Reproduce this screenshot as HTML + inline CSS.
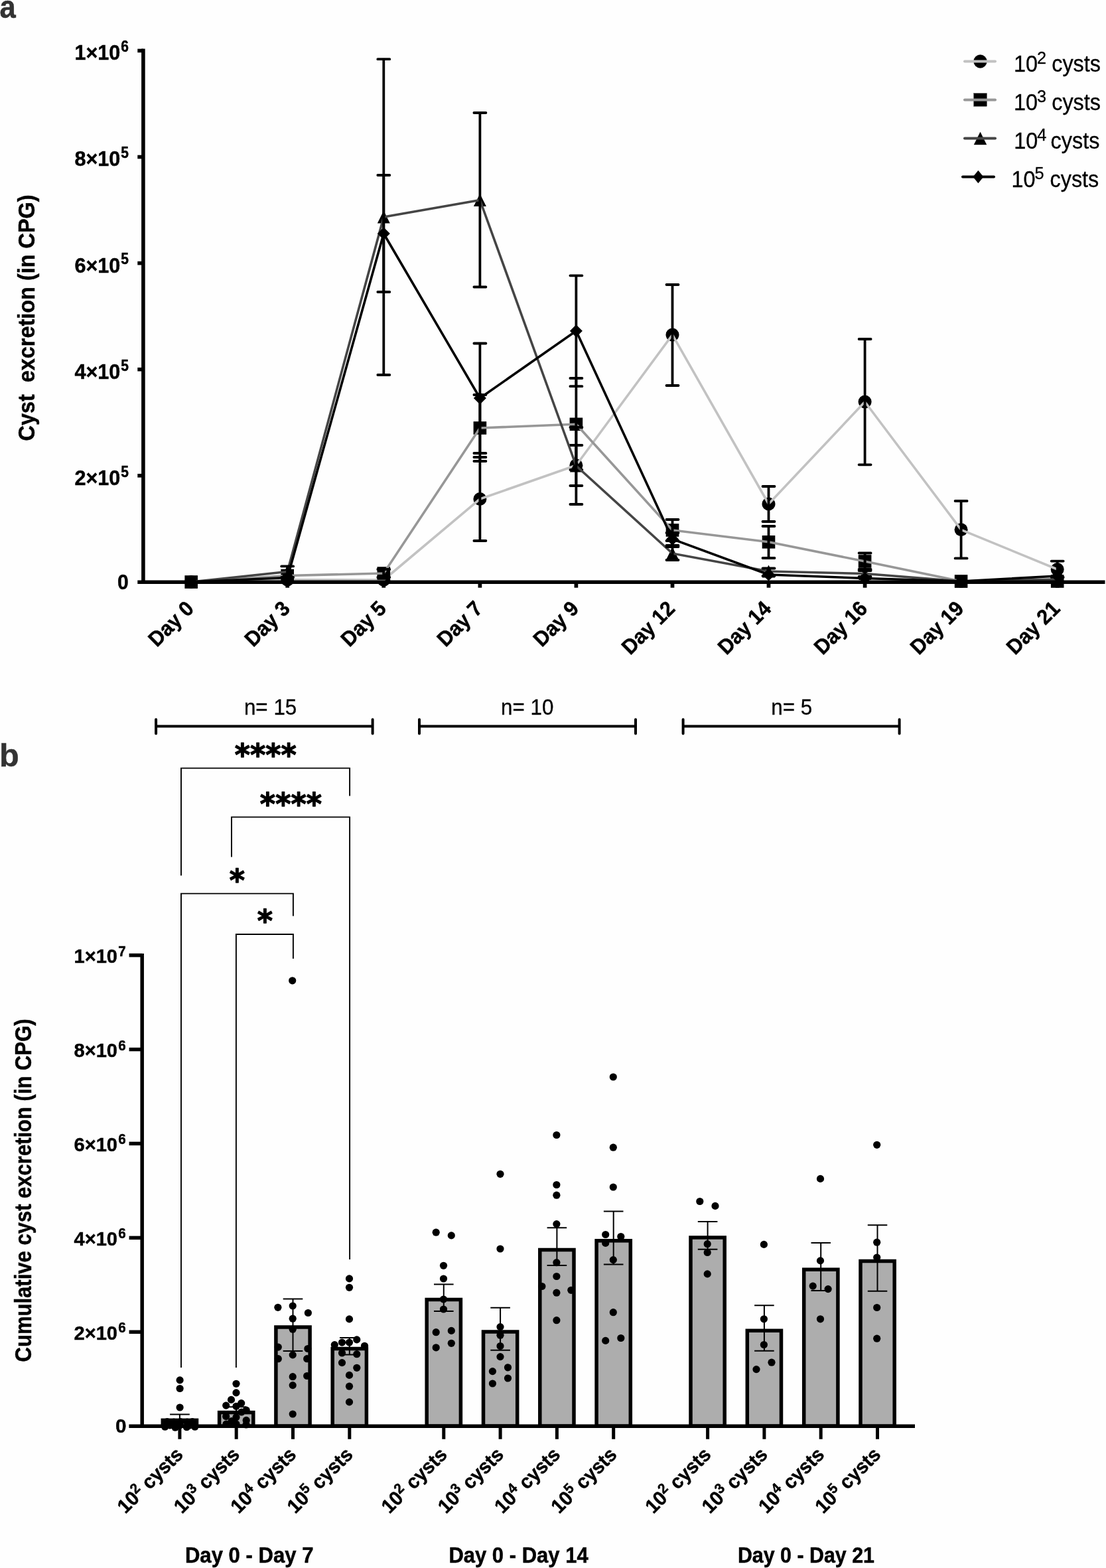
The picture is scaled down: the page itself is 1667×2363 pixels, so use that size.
<!DOCTYPE html>
<html><head><meta charset="utf-8"><title>Cyst excretion</title>
<style>html,body{margin:0;padding:0;background:#fefefe;}svg{display:block;}</style>
</head><body>
<svg width="1667" height="2363" viewBox="0 0 1667 2363">
<rect width="1667" height="2363" fill="#fefefe"/>
<g font-family='"Liberation Sans", Arial, sans-serif' stroke="#333" stroke-width="0.45">
<text transform="translate(-0.6 26.5) scale(1 1.084)" font-size="43.6" font-weight="bold" fill="#333">a</text>
<text transform="translate(-1.1 1155) scale(1 0.97)" font-size="48.7" font-weight="bold" fill="#333">b</text>
</g>
<g fill="#000">
<circle cx="288.2" cy="877" r="10"/>
<circle cx="433.2" cy="873.8" r="10"/>
<circle cx="578.3" cy="874" r="10"/>
<circle cx="723.4" cy="752" r="10"/>
<circle cx="868.4" cy="701.3" r="10"/>
<circle cx="1013.5" cy="504.5" r="10"/>
<circle cx="1158.5" cy="759.5" r="10"/>
<circle cx="1303.6" cy="605.5" r="10"/>
<circle cx="1448.6" cy="798.3" r="10"/>
<circle cx="1593.7" cy="858" r="10"/>
</g>
<polyline points="288.2,877 433.2,873.8 578.3,874 723.4,752 868.4,701.3 1013.5,504.5 1158.5,759.5 1303.6,605.5 1448.6,798.3 1593.7,858" fill="none" stroke="#c2c2c2" stroke-width="3.6" stroke-linejoin="round"/>
<g stroke="#000" stroke-width="3.8" stroke-linecap="round" fill="none">
<path d="M723.4 752V689M714.4 689H732.4"/>
<path d="M723.4 752V815M714.4 815H732.4"/>
<path d="M868.4 701.3V671M859.4 671H877.4"/>
<path d="M868.4 701.3V732M859.4 732H877.4"/>
<path d="M1013.5 504.5V429M1004.5 429H1022.5"/>
<path d="M1013.5 504.5V581M1004.5 581H1022.5"/>
<path d="M1158.5 759.5V733M1149.5 733H1167.5"/>
<path d="M1158.5 759.5V786M1149.5 786H1167.5"/>
<path d="M1303.6 605.5V511M1294.6 511H1312.6"/>
<path d="M1303.6 605.5V700.3M1294.6 700.3H1312.6"/>
<path d="M1448.6 798.3V755M1439.6 755H1457.6"/>
<path d="M1448.6 798.3V841.4M1439.6 841.4H1457.6"/>
<path d="M1593.7 858V845.6M1584.7 845.6H1602.7"/>
<path d="M1593.7 858V870M1584.7 870H1602.7"/>
</g>
<g fill="#000">
<rect x="278.4" y="867.2" width="19.6" height="19.6"/>
<rect x="423.4" y="857.7" width="19.6" height="19.6"/>
<rect x="568.5" y="854.2" width="19.6" height="19.6"/>
<rect x="713.6" y="635.2" width="19.6" height="19.6"/>
<rect x="858.6" y="629.5" width="19.6" height="19.6"/>
<rect x="1003.7" y="789.2" width="19.6" height="19.6"/>
<rect x="1148.7" y="807" width="19.6" height="19.6"/>
<rect x="1293.8" y="836.2" width="19.6" height="19.6"/>
<rect x="1438.8" y="866.2" width="19.6" height="19.6"/>
<rect x="1583.9" y="866.2" width="19.6" height="19.6"/>
</g>
<polyline points="288.2,877 433.2,867.5 578.3,864 723.4,645 868.4,639.3 1013.5,799 1158.5,816.8 1303.6,846 1448.6,876 1593.7,876" fill="none" stroke="#979797" stroke-width="3.6" stroke-linejoin="round"/>
<g stroke="#000" stroke-width="3.8" stroke-linecap="round" fill="none">
<path d="M578.3 864V858M569.3 858H587.3"/>
<path d="M578.3 864V870M569.3 870H587.3"/>
<path d="M723.4 645V595M714.4 595H732.4"/>
<path d="M723.4 645V695M714.4 695H732.4"/>
<path d="M868.4 639.3V570M859.4 570H877.4"/>
<path d="M868.4 639.3V708M859.4 708H877.4"/>
<path d="M1013.5 799V783M1004.5 783H1022.5"/>
<path d="M1013.5 799V815M1004.5 815H1022.5"/>
<path d="M1158.5 816.8V793M1149.5 793H1167.5"/>
<path d="M1158.5 816.8V841M1149.5 841H1167.5"/>
<path d="M1303.6 846V833.5M1294.6 833.5H1312.6"/>
<path d="M1303.6 846V858M1294.6 858H1312.6"/>
</g>
<g fill="#000">
<path d="M288.2 867.4L297.7 886.6L278.7 886.6Z"/>
<path d="M433.2 851.9L442.8 871.1L423.8 871.1Z"/>
<path d="M578.3 317.4L587.8 336.6L568.8 336.6Z"/>
<path d="M723.4 291.9L732.9 311.1L713.9 311.1Z"/>
<path d="M868.4 692.4L877.9 711.6L858.9 711.6Z"/>
<path d="M1013.5 824.4L1023 843.6L1004 843.6Z"/>
<path d="M1158.5 851.4L1168 870.6L1149 870.6Z"/>
<path d="M1303.6 854.9L1313.1 874.1L1294.1 874.1Z"/>
<path d="M1448.6 866.4L1458.1 885.6L1439.1 885.6Z"/>
<path d="M1593.7 863.4L1603.2 882.6L1584.2 882.6Z"/>
</g>
<polyline points="288.2,877 433.2,861.5 578.3,327 723.4,301.5 868.4,702 1013.5,834 1158.5,861 1303.6,864.5 1448.6,876 1593.7,873" fill="none" stroke="#454545" stroke-width="3.6" stroke-linejoin="round"/>
<g stroke="#000" stroke-width="3.8" stroke-linecap="round" fill="none">
<path d="M433.2 861.5V853.4M424.2 853.4H442.2"/>
<path d="M433.2 861.5V870M424.2 870H442.2"/>
<path d="M578.3 327V89.2M569.3 89.2H587.3"/>
<path d="M578.3 327V565M569.3 565H587.3"/>
<path d="M723.4 301.5V170M714.4 170H732.4"/>
<path d="M723.4 301.5V432.5M714.4 432.5H732.4"/>
<path d="M868.4 702V644M859.4 644H877.4"/>
<path d="M868.4 702V760M859.4 760H877.4"/>
<path d="M1013.5 834V824M1004.5 824H1022.5"/>
<path d="M1013.5 834V844M1004.5 844H1022.5"/>
<path d="M1158.5 861V856.5M1149.5 856.5H1167.5"/>
<path d="M1158.5 861V868M1149.5 868H1167.5"/>
<path d="M1303.6 864.5V860M1294.6 860H1312.6"/>
<path d="M1303.6 864.5V869M1294.6 869H1312.6"/>
</g>
<g fill="#000">
<path d="M288.2 867.5L297.7 877L288.2 886.5L278.7 877Z"/>
<path d="M433.2 861L442.8 870.5L433.2 880L423.8 870.5Z"/>
<path d="M578.3 342.5L587.8 352L578.3 361.5L568.8 352Z"/>
<path d="M723.4 590.5L732.9 600L723.4 609.5L713.9 600Z"/>
<path d="M868.4 489.2L877.9 498.7L868.4 508.2L858.9 498.7Z"/>
<path d="M1013.5 803L1023 812.5L1013.5 822L1004 812.5Z"/>
<path d="M1158.5 856.5L1168 866L1158.5 875.5L1149 866Z"/>
<path d="M1303.6 862L1313.1 871.5L1303.6 881L1294.1 871.5Z"/>
<path d="M1448.6 866.5L1458.1 876L1448.6 885.5L1439.1 876Z"/>
<path d="M1593.7 858.5L1603.2 868L1593.7 877.5L1584.2 868Z"/>
</g>
<polyline points="288.2,877 433.2,870.5 578.3,352 723.4,600 868.4,498.7 1013.5,812.5 1158.5,866 1303.6,871.5 1448.6,876 1593.7,868" fill="none" stroke="#000000" stroke-width="3.6" stroke-linejoin="round"/>
<g stroke="#000" stroke-width="3.8" stroke-linecap="round" fill="none">
<path d="M578.3 352V264M569.3 264H587.3"/>
<path d="M578.3 352V440M569.3 440H587.3"/>
<path d="M723.4 600V517.5M714.4 517.5H732.4"/>
<path d="M723.4 600V683M714.4 683H732.4"/>
<path d="M868.4 498.7V415.3M859.4 415.3H877.4"/>
<path d="M868.4 498.7V582.2M859.4 582.2H877.4"/>
<path d="M1013.5 812.5V803M1004.5 803H1022.5"/>
<path d="M1013.5 812.5V822M1004.5 822H1022.5"/>
</g>
<g stroke="#000" fill="none" stroke-width="5.6">
<path d="M215.9 73.6V880"/>
<path d="M207.3 877.3H1665.5"/>
<path d="M207.3 716.8H216"/>
<path d="M207.3 556.7H216"/>
<path d="M207.3 396.6H216"/>
<path d="M207.3 236.5H216"/>
<path d="M207.3 76.4H216"/>
</g>
<g stroke="#000" stroke-width="5.7">
<path d="M288.2 879V885.7"/>
<path d="M433.2 879V885.7"/>
<path d="M578.3 879V885.7"/>
<path d="M723.4 879V885.7"/>
<path d="M868.4 879V885.7"/>
<path d="M1013.5 879V885.7"/>
<path d="M1158.5 879V885.7"/>
<path d="M1303.6 879V885.7"/>
<path d="M1448.6 879V885.7"/>
<path d="M1593.7 879V885.7"/>
</g>
<g font-family='"Liberation Sans", Arial, sans-serif' stroke="#000" stroke-width="0.45">
<text transform="translate(193.7 887.9) scale(1 1.04)" font-size="30.1" font-weight="bold" text-anchor="end">0</text>
<text transform="translate(181.3 730.7) scale(1 1.05)" font-size="30.6" font-weight="bold" text-anchor="end">2×10</text>
<text transform="translate(182.3 718.6) scale(1 1.12)" font-size="21" font-weight="bold">5</text>
<text transform="translate(181.3 570.6) scale(1 1.05)" font-size="30.6" font-weight="bold" text-anchor="end">4×10</text>
<text transform="translate(182.3 558.5) scale(1 1.12)" font-size="21" font-weight="bold">5</text>
<text transform="translate(181.3 410.5) scale(1 1.05)" font-size="30.6" font-weight="bold" text-anchor="end">6×10</text>
<text transform="translate(182.3 398.4) scale(1 1.12)" font-size="21" font-weight="bold">5</text>
<text transform="translate(181.3 250.4) scale(1 1.05)" font-size="30.6" font-weight="bold" text-anchor="end">8×10</text>
<text transform="translate(182.3 238.3) scale(1 1.12)" font-size="21" font-weight="bold">5</text>
<text transform="translate(181.3 90.3) scale(1 1.05)" font-size="30.6" font-weight="bold" text-anchor="end">1×10</text>
<text transform="translate(182.3 78.2) scale(1 1.12)" font-size="21" font-weight="bold">6</text>
</g>
<text transform="translate(51.8 479) rotate(-90) scale(1 1.04)" text-anchor="middle" font-family='"Liberation Sans", Arial, sans-serif' stroke="#000" stroke-width="0.45" font-weight="bold" font-size="34.3" textLength="371" lengthAdjust="spacingAndGlyphs" xml:space="preserve">Cyst  excretion (in CPG)</text>
<g font-family='"Liberation Sans", Arial, sans-serif' stroke="#000" stroke-width="0.45">
<text transform="translate(293.9 919) rotate(-45) scale(1 1.045)" font-size="30.4" font-weight="bold" text-anchor="end">Day 0</text>
<text transform="translate(439 919) rotate(-45) scale(1 1.045)" font-size="30.4" font-weight="bold" text-anchor="end">Day 3</text>
<text transform="translate(584 919) rotate(-45) scale(1 1.045)" font-size="30.4" font-weight="bold" text-anchor="end">Day 5</text>
<text transform="translate(729.1 919) rotate(-45) scale(1 1.045)" font-size="30.4" font-weight="bold" text-anchor="end">Day 7</text>
<text transform="translate(874.2 919) rotate(-45) scale(1 1.045)" font-size="30.4" font-weight="bold" text-anchor="end">Day 9</text>
<text transform="translate(1019.2 919) rotate(-45) scale(1 1.045)" font-size="30.4" font-weight="bold" text-anchor="end">Day 12</text>
<text transform="translate(1164.2 919) rotate(-45) scale(1 1.045)" font-size="30.4" font-weight="bold" text-anchor="end">Day 14</text>
<text transform="translate(1309.3 919) rotate(-45) scale(1 1.045)" font-size="30.4" font-weight="bold" text-anchor="end">Day 16</text>
<text transform="translate(1454.4 919) rotate(-45) scale(1 1.045)" font-size="30.4" font-weight="bold" text-anchor="end">Day 19</text>
<text transform="translate(1599.4 919) rotate(-45) scale(1 1.045)" font-size="30.4" font-weight="bold" text-anchor="end">Day 21</text>
</g>
<g font-family='"Liberation Sans", Arial, sans-serif' stroke="#000" stroke-width="0.3">
<g fill="#000"><circle cx="1477.5" cy="92.5" r="10"/></g>
<path d="M1454 92.5H1500" stroke="#c2c2c2" stroke-width="4" stroke-linecap="round"/>
<text transform="translate(1528 108.1) scale(1 1.058)" font-size="32.4">10</text>
<text transform="translate(1563 96.2) scale(1 1.02)" font-size="25.3">2</text>
<text transform="translate(1585.2 108.1) scale(1 1.058)" font-size="32.4">cysts</text>
<g fill="#000"><rect x="1467.7" y="140.6" width="19.6" height="19.6"/></g>
<path d="M1454 150.4H1500" stroke="#979797" stroke-width="4" stroke-linecap="round"/>
<text transform="translate(1528 166) scale(1 1.058)" font-size="32.4">10</text>
<text transform="translate(1563 154.1) scale(1 1.02)" font-size="25.3">3</text>
<text transform="translate(1585.2 166) scale(1 1.058)" font-size="32.4">cysts</text>
<g fill="#000"><path d="M1477.5 198.9L1487 218.1L1468 218.1Z"/></g>
<path d="M1454 208.5H1500" stroke="#454545" stroke-width="4" stroke-linecap="round"/>
<text transform="translate(1528.2 224.1) scale(1 1.058)" font-size="32.4">10</text>
<text transform="translate(1563.2 212.2) scale(1 1.02)" font-size="25.3">4</text>
<text transform="translate(1583.6 224.1) scale(1 1.058)" font-size="32.4">cysts</text>
<g fill="#000"><path d="M1474.4 256.9L1482.2 266.5L1474.4 276.1L1466.6 266.5Z"/></g>
<path d="M1451 266.5H1498" stroke="#000000" stroke-width="4" stroke-linecap="round"/>
<text transform="translate(1524.5 282.1) scale(1 1.058)" font-size="32.4">10</text>
<text transform="translate(1559.5 270.2) scale(1 1.02)" font-size="25.3">5</text>
<text transform="translate(1582.5 282.1) scale(1 1.058)" font-size="32.4">cysts</text>
</g>
<g stroke="#000" stroke-width="4" stroke-linecap="round" fill="none">
<path d="M235.1 1094.4H561.6M235.1 1084.2V1105.4M561.6 1084.2V1105.4"/>
<path d="M632 1094.4H958M632 1084.2V1105.4M958 1084.2V1105.4"/>
<path d="M1029.6 1094.4H1355.6M1029.6 1084.2V1105.4M1355.6 1084.2V1105.4"/>
</g>
<g font-family='"Liberation Sans", Arial, sans-serif' stroke="#000" stroke-width="0.3">
<text transform="translate(407.6 1077.2) scale(1 1.065)" font-size="31.4" text-anchor="middle">n= 15</text>
<text transform="translate(794.8 1077.4) scale(1 1.065)" font-size="31.4" text-anchor="middle">n= 10</text>
<text transform="translate(1193.2 1077.4) scale(1 1.065)" font-size="31.5" text-anchor="middle">n= 5</text>
</g>
<g stroke="#000" stroke-width="1.9" fill="none">
<path d="M273 1319.4V1157.6H527.1V1199.6"/>
<path d="M349 1291.6V1231.4H527.1V1898"/>
<path d="M273 2061V1346.6H441.9V1380.5"/>
<path d="M355.9 2061V1408H441.9V1444.7"/>
</g>
<g font-family='"DejaVu Sans", sans-serif' font-weight="bold" font-size="44.5" text-anchor="middle" stroke="#000" stroke-width="1.2" stroke-linejoin="round">
<text transform="translate(400.2 1153.8) scale(1 1.047)">****</text>
<text transform="translate(438.4 1228) scale(1 1.047)">****</text>
<text transform="translate(357.5 1342.7) scale(1 1.047)">*</text>
<text transform="translate(399.5 1404.3) scale(1 1.047)">*</text>
</g>
<g fill="#adadad" stroke="#000" stroke-width="5.5">
<rect x="245.3" y="2140.3" width="51.2" height="8.8"/>
<rect x="330.6" y="2128.6" width="51.2" height="20.6"/>
<rect x="415.9" y="2000" width="51.2" height="149.1"/>
<rect x="501.2" y="2032.5" width="51.2" height="116.7"/>
<rect x="643.2" y="1958.5" width="51.2" height="190.6"/>
<rect x="728.5" y="2007" width="51.2" height="142.1"/>
<rect x="813.8" y="1883.5" width="51.2" height="265.6"/>
<rect x="899.1" y="1869.8" width="51.2" height="279.4"/>
<rect x="1041" y="1865" width="51.2" height="284.1"/>
<rect x="1126.3" y="2005.3" width="51.2" height="143.8"/>
<rect x="1211.7" y="1913.2" width="51.2" height="235.9"/>
<rect x="1297" y="1900.5" width="51.2" height="248.7"/>
</g>
<g stroke="#000" stroke-width="2" fill="none">
<path d="M270.9 2140.2V2131.6M256.1 2131.6H285.8"/>
<path d="M356.2 2128.5V2120.3M341.4 2120.3H371.1"/>
<path d="M441.5 2000V1957.4M426.7 1957.4H456.3"/>
<path d="M441.5 2000V2036M426.7 2036H456.3"/>
<path d="M526.8 2032.4V2016M512 2016H541.6"/>
<path d="M526.8 2032.4V2041.4M512 2041.4H541.6"/>
<path d="M668.8 1958.5V1935.5M654 1935.5H683.6"/>
<path d="M668.8 1958.5V1976.1M654 1976.1H683.6"/>
<path d="M754.1 2007V1970.8M739.3 1970.8H768.9"/>
<path d="M754.1 2007V2034.7M739.3 2034.7H768.9"/>
<path d="M839.4 1883.5V1850.3M824.6 1850.3H854.2"/>
<path d="M839.4 1883.5V1906.9M824.6 1906.9H854.2"/>
<path d="M924.7 1869.7V1825.4M909.9 1825.4H939.5"/>
<path d="M924.7 1869.7V1905.5M909.9 1905.5H939.5"/>
<path d="M1066.6 1865V1840.9M1051.8 1840.9H1081.4"/>
<path d="M1066.6 1865V1882.8M1051.8 1882.8H1081.4"/>
<path d="M1151.9 2005.2V1967.3M1137.1 1967.3H1166.7"/>
<path d="M1151.9 2005.2V2035.7M1137.1 2035.7H1166.7"/>
<path d="M1237.2 1913.2V1873M1222.5 1873H1252"/>
<path d="M1237.2 1913.2V1945M1222.5 1945H1252"/>
<path d="M1322.5 1900.4V1846.3M1307.8 1846.3H1337.3"/>
<path d="M1322.5 1900.4V1945.8M1307.8 1945.8H1337.3"/>
</g>
<g fill="#000">
<circle cx="271.1" cy="2079.9" r="5.6"/>
<circle cx="271.1" cy="2092.5" r="5.6"/>
<circle cx="271.1" cy="2121" r="5.6"/>
<circle cx="248.7" cy="2150.2" r="5.6"/>
<circle cx="264.1" cy="2151.2" r="5.6"/>
<circle cx="281.4" cy="2150.7" r="5.6"/>
<circle cx="293.8" cy="2150.2" r="5.6"/>
<circle cx="256" cy="2148" r="5.6"/>
<circle cx="271" cy="2148" r="5.6"/>
<circle cx="286" cy="2148" r="5.6"/>
<circle cx="252" cy="2142.5" r="5.6"/>
<circle cx="262" cy="2143" r="5.6"/>
<circle cx="272" cy="2142.5" r="5.6"/>
<circle cx="282" cy="2143" r="5.6"/>
<circle cx="290" cy="2142.5" r="5.6"/>
<circle cx="356" cy="2085.3" r="5.6"/>
<circle cx="356" cy="2098.9" r="5.6"/>
<circle cx="348.5" cy="2109.4" r="5.6"/>
<circle cx="340.7" cy="2118.1" r="5.6"/>
<circle cx="363.7" cy="2114.6" r="5.6"/>
<circle cx="356" cy="2119.3" r="5.6"/>
<circle cx="371.2" cy="2125.1" r="5.6"/>
<circle cx="340.7" cy="2134.5" r="5.6"/>
<circle cx="356" cy="2135.7" r="5.6"/>
<circle cx="371.2" cy="2140.4" r="5.6"/>
<circle cx="349" cy="2141.6" r="5.6"/>
<circle cx="364" cy="2128" r="5.6"/>
<circle cx="341" cy="2146" r="5.6"/>
<circle cx="371" cy="2147" r="5.6"/>
<circle cx="356" cy="2146" r="5.6"/>
<circle cx="440.7" cy="1477.8" r="5.6"/>
<circle cx="418.9" cy="1970.3" r="5.6"/>
<circle cx="441.2" cy="1968" r="5.6"/>
<circle cx="464.4" cy="1978.5" r="5.6"/>
<circle cx="441.2" cy="1987.2" r="5.6"/>
<circle cx="441.2" cy="2003.2" r="5.6"/>
<circle cx="419.3" cy="2030.1" r="5.6"/>
<circle cx="463.9" cy="2032.5" r="5.6"/>
<circle cx="441.2" cy="2041.9" r="5.6"/>
<circle cx="419.3" cy="2047.7" r="5.6"/>
<circle cx="462.7" cy="2047.7" r="5.6"/>
<circle cx="441.2" cy="2074.7" r="5.6"/>
<circle cx="441.2" cy="2087.6" r="5.6"/>
<circle cx="462.7" cy="2073.5" r="5.6"/>
<circle cx="441.2" cy="2131" r="5.6"/>
<circle cx="526.5" cy="1926.9" r="5.6"/>
<circle cx="526.5" cy="1940.3" r="5.6"/>
<circle cx="526.5" cy="1987.9" r="5.6"/>
<circle cx="515.5" cy="2023.1" r="5.6"/>
<circle cx="526.5" cy="2023.1" r="5.6"/>
<circle cx="537.8" cy="2018.9" r="5.6"/>
<circle cx="504.3" cy="2026.6" r="5.6"/>
<circle cx="549.5" cy="2028.3" r="5.6"/>
<circle cx="515.5" cy="2039" r="5.6"/>
<circle cx="537.8" cy="2040.7" r="5.6"/>
<circle cx="515.5" cy="2053.6" r="5.6"/>
<circle cx="537.8" cy="2061.3" r="5.6"/>
<circle cx="526.5" cy="2072.4" r="5.6"/>
<circle cx="526.5" cy="2089.2" r="5.6"/>
<circle cx="526.5" cy="2112.9" r="5.6"/>
<circle cx="657.2" cy="1857.2" r="5.6"/>
<circle cx="680.3" cy="1861.9" r="5.6"/>
<circle cx="668.5" cy="1907.3" r="5.6"/>
<circle cx="668.5" cy="1927" r="5.6"/>
<circle cx="668.5" cy="1958" r="5.6"/>
<circle cx="668.5" cy="1973" r="5.6"/>
<circle cx="657.2" cy="2007.7" r="5.6"/>
<circle cx="680.3" cy="2005.4" r="5.6"/>
<circle cx="657.2" cy="2030.8" r="5.6"/>
<circle cx="680.3" cy="2024.3" r="5.6"/>
<circle cx="754" cy="1769.3" r="5.6"/>
<circle cx="754" cy="1882" r="5.6"/>
<circle cx="754" cy="1999.6" r="5.6"/>
<circle cx="754" cy="2012.3" r="5.6"/>
<circle cx="754" cy="2028.5" r="5.6"/>
<circle cx="754" cy="2044.6" r="5.6"/>
<circle cx="742.4" cy="2066.6" r="5.6"/>
<circle cx="765.5" cy="2060.8" r="5.6"/>
<circle cx="742.4" cy="2085" r="5.6"/>
<circle cx="765.5" cy="2077" r="5.6"/>
<circle cx="838.9" cy="1710.5" r="5.6"/>
<circle cx="838.9" cy="1785.5" r="5.6"/>
<circle cx="838.9" cy="1801.2" r="5.6"/>
<circle cx="838.9" cy="1844.6" r="5.6"/>
<circle cx="838.9" cy="1902.7" r="5.6"/>
<circle cx="838.9" cy="1923.5" r="5.6"/>
<circle cx="816.9" cy="1938.5" r="5.6"/>
<circle cx="838.9" cy="1948.2" r="5.6"/>
<circle cx="860.8" cy="1944.3" r="5.6"/>
<circle cx="838.9" cy="1989.7" r="5.6"/>
<circle cx="924.3" cy="1623" r="5.6"/>
<circle cx="924.3" cy="1729.2" r="5.6"/>
<circle cx="924.3" cy="1789" r="5.6"/>
<circle cx="912.7" cy="1860.5" r="5.6"/>
<circle cx="935.8" cy="1863.5" r="5.6"/>
<circle cx="912.7" cy="1873.4" r="5.6"/>
<circle cx="924.3" cy="1898.6" r="5.6"/>
<circle cx="924.3" cy="1977.7" r="5.6"/>
<circle cx="912.7" cy="2020.4" r="5.6"/>
<circle cx="935.8" cy="2016.5" r="5.6"/>
<circle cx="1054.8" cy="1810.5" r="5.6"/>
<circle cx="1078" cy="1817.4" r="5.6"/>
<circle cx="1066.2" cy="1874.7" r="5.6"/>
<circle cx="1066.2" cy="1887.5" r="5.6"/>
<circle cx="1066.2" cy="1919.9" r="5.6"/>
<circle cx="1151.4" cy="1875.4" r="5.6"/>
<circle cx="1151.4" cy="1987.8" r="5.6"/>
<circle cx="1151.4" cy="2026.5" r="5.6"/>
<circle cx="1163" cy="2053.2" r="5.6"/>
<circle cx="1140" cy="2063.6" r="5.6"/>
<circle cx="1236.5" cy="1776.4" r="5.6"/>
<circle cx="1236.5" cy="1899.9" r="5.6"/>
<circle cx="1225.2" cy="1938.1" r="5.6"/>
<circle cx="1248.1" cy="1942.6" r="5.6"/>
<circle cx="1236.5" cy="1987.8" r="5.6"/>
<circle cx="1321.7" cy="1725.3" r="5.6"/>
<circle cx="1321.7" cy="1872.2" r="5.6"/>
<circle cx="1321.7" cy="1895" r="5.6"/>
<circle cx="1321.7" cy="1970.5" r="5.6"/>
<circle cx="1321.7" cy="2017.2" r="5.6"/>
</g>
<g stroke="#000" fill="none" stroke-width="5.5">
<path d="M214.2 1436.9V2152"/>
<path d="M194.4 2149.2H1379"/>
<path d="M194.6 2007.3H214"/>
<path d="M194.6 1865.4H214"/>
<path d="M194.6 1723.4H214"/>
<path d="M194.6 1581.5H214"/>
<path d="M194.6 1439.6H214"/>
</g>
<g stroke="#000" stroke-width="5">
<path d="M270.9 2151V2168.8"/>
<path d="M356.2 2151V2168.8"/>
<path d="M441.5 2151V2168.8"/>
<path d="M526.8 2151V2168.8"/>
<path d="M668.8 2151V2168.8"/>
<path d="M754.1 2151V2168.8"/>
<path d="M839.4 2151V2168.8"/>
<path d="M924.7 2151V2168.8"/>
<path d="M1066.6 2151V2168.8"/>
<path d="M1151.9 2151V2168.8"/>
<path d="M1237.2 2151V2168.8"/>
<path d="M1322.5 2151V2168.8"/>
</g>
<g font-family='"Liberation Sans", Arial, sans-serif' stroke="#000" stroke-width="0.45">
<text transform="translate(190.5 2159.4) scale(1 1.01)" font-size="29.7" font-weight="bold" text-anchor="end">0</text>
<text transform="translate(177 2018.9) scale(1 1.02)" font-size="29.1" font-weight="bold" text-anchor="end">2×10</text>
<text transform="translate(178.3 2008.3) scale(1 1.08)" font-size="20.6" font-weight="bold">6</text>
<text transform="translate(177 1877) scale(1 1.02)" font-size="29.1" font-weight="bold" text-anchor="end">4×10</text>
<text transform="translate(178.3 1866.4) scale(1 1.08)" font-size="20.6" font-weight="bold">6</text>
<text transform="translate(177 1735) scale(1 1.02)" font-size="29.1" font-weight="bold" text-anchor="end">6×10</text>
<text transform="translate(178.3 1724.4) scale(1 1.08)" font-size="20.6" font-weight="bold">6</text>
<text transform="translate(177 1593.1) scale(1 1.02)" font-size="29.1" font-weight="bold" text-anchor="end">8×10</text>
<text transform="translate(178.3 1582.5) scale(1 1.08)" font-size="20.6" font-weight="bold">6</text>
<text transform="translate(177 1451.2) scale(1 1.02)" font-size="29.1" font-weight="bold" text-anchor="end">1×10</text>
<text transform="translate(178.3 1440.6) scale(1 1.08)" font-size="20.6" font-weight="bold">7</text>
</g>
<text transform="translate(46.9 1793.9) rotate(-90) scale(1 1.037)" text-anchor="middle" font-family='"Liberation Sans", Arial, sans-serif' stroke="#000" stroke-width="0.45" font-weight="bold" font-size="33.7" textLength="517" lengthAdjust="spacingAndGlyphs">Cumulative cyst excretion (in CPG)</text>
<g font-family='"Liberation Sans", Arial, sans-serif' stroke="#000" stroke-width="0.45" font-weight="bold" font-size="28.8" text-anchor="end">
<text transform="translate(277.6 2193.8) rotate(-45) scale(1 1.04)">10<tspan dy="-10" font-size="20.7">2</tspan><tspan dy="10"> cysts</tspan></text>
<text transform="translate(362.9 2193.8) rotate(-45) scale(1 1.04)">10<tspan dy="-10" font-size="20.7">3</tspan><tspan dy="10"> cysts</tspan></text>
<text transform="translate(448.2 2193.8) rotate(-45) scale(1 1.04)">10<tspan dy="-10" font-size="20.7">4</tspan><tspan dy="10"> cysts</tspan></text>
<text transform="translate(533.5 2193.8) rotate(-45) scale(1 1.04)">10<tspan dy="-10" font-size="20.7">5</tspan><tspan dy="10"> cysts</tspan></text>
<text transform="translate(675.5 2193.8) rotate(-45) scale(1 1.04)">10<tspan dy="-10" font-size="20.7">2</tspan><tspan dy="10"> cysts</tspan></text>
<text transform="translate(760.8 2193.8) rotate(-45) scale(1 1.04)">10<tspan dy="-10" font-size="20.7">3</tspan><tspan dy="10"> cysts</tspan></text>
<text transform="translate(846.1 2193.8) rotate(-45) scale(1 1.04)">10<tspan dy="-10" font-size="20.7">4</tspan><tspan dy="10"> cysts</tspan></text>
<text transform="translate(931.4 2193.8) rotate(-45) scale(1 1.04)">10<tspan dy="-10" font-size="20.7">5</tspan><tspan dy="10"> cysts</tspan></text>
<text transform="translate(1073.3 2193.8) rotate(-45) scale(1 1.04)">10<tspan dy="-10" font-size="20.7">2</tspan><tspan dy="10"> cysts</tspan></text>
<text transform="translate(1158.6 2193.8) rotate(-45) scale(1 1.04)">10<tspan dy="-10" font-size="20.7">3</tspan><tspan dy="10"> cysts</tspan></text>
<text transform="translate(1244 2193.8) rotate(-45) scale(1 1.04)">10<tspan dy="-10" font-size="20.7">4</tspan><tspan dy="10"> cysts</tspan></text>
<text transform="translate(1329.2 2193.8) rotate(-45) scale(1 1.04)">10<tspan dy="-10" font-size="20.7">5</tspan><tspan dy="10"> cysts</tspan></text>
</g>
<g font-family='"Liberation Sans", Arial, sans-serif' stroke="#000" stroke-width="0.45">
<text transform="translate(375.7 2355.4) scale(1 1.083)" font-size="31.1" font-weight="bold" text-anchor="middle">Day 0 - Day 7</text>
<text transform="translate(781.5 2355.4) scale(1 1.086)" font-size="31" font-weight="bold" text-anchor="middle">Day 0 - Day 14</text>
<text transform="translate(1214.9 2355.4) scale(1 1.104)" font-size="30.4" font-weight="bold" text-anchor="middle">Day 0 - Day 21</text>
</g>
</svg>
</body></html>
